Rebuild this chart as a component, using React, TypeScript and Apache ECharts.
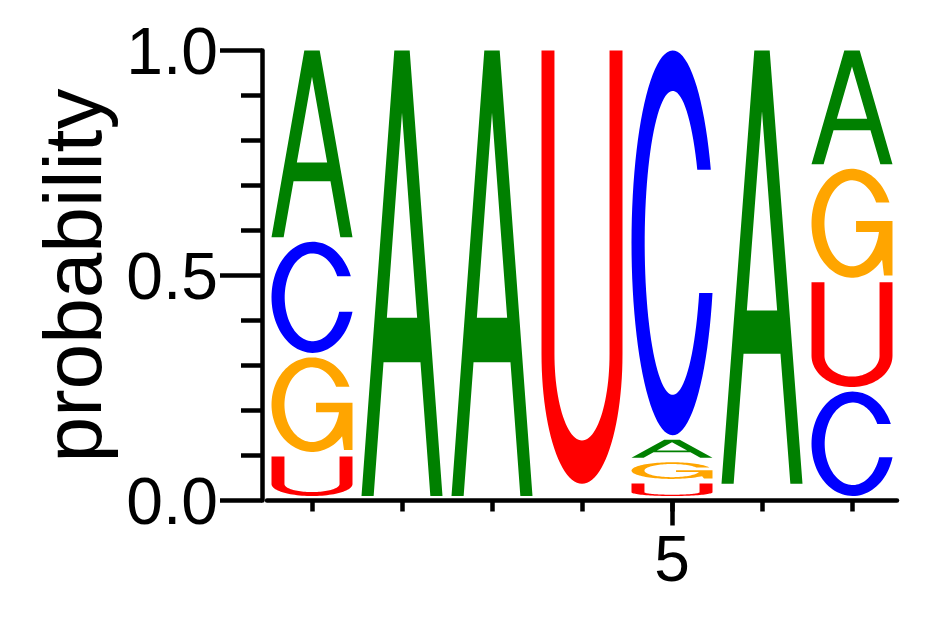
import React, { useEffect, useRef } from "react";
import * as echarts from "echarts";

// sequence positions and the four bases
const positions = ["1", "2", "3", "4", "5", "6", "7"];
const letters = ["A", "C", "G", "U"];
const letterColors = ["#008000", "#0000FF", "#FFA500", "#FF0000"];

// probability of each base at each position
const probA = [0.425, 1.0, 1.0, 0.009, 0.05, 0.973, 0.263];
const probC = [0.257, 0, 0, 0.009, 0.865, 0.009, 0.242];
const probG = [0.22, 0, 0, 0.009, 0.047, 0.009, 0.252];
const probU = [0.098, 0, 0, 0.973, 0.038, 0.009, 0.243];

const yTicks = [0, 0.5, 1.0];

// ---- glyph outlines in a 100x100 box (y down) ----
const deg = (r: number) => (r * 180) / Math.PI;
const ellipsePts = (cx: number, cy: number, rx: number, ry: number, a0: number, a1: number, n: number) => {
  const pts: number[][] = [];
  for (let k = 0; k <= n; k++) {
    const a = ((a0 + ((a1 - a0) * k) / n) * Math.PI) / 180;
    pts.push([cx + rx * Math.cos(a), cy - ry * Math.sin(a)]);
  }
  return pts;
};
const toPath = (pts: number[][]) =>
  "M" + pts.map((p) => p[0].toFixed(2) + "," + p[1].toFixed(2)).join("L") + "Z";

const glyphA =
  "M0,100L40.5,0L59.5,0L100,100L85,100L72.8,70L27.2,70L15,100Z" +
  "M31.3,60L68.7,60L50,14Z";

const yT = 31;
const yB = 63;
const oT = deg(Math.asin((50 - yT) / 50));
const oB = 360 + deg(Math.asin((50 - yB) / 50));
const iT = deg(Math.asin((50 - yT) / 39.5));
const iB = 360 + deg(Math.asin((50 - yB) / 39.5));

const glyphC = toPath([
  ...ellipsePts(50, 50, 50, 50, oT, oB, 90),
  ...ellipsePts(50, 50, 34, 39.5, iB, iT, 90),
]);

const gBar = deg(Math.asin((50 - 58) / 39.5));
const glyphG = toPath([
  ...ellipsePts(50, 50, 50, 50, oT, 318, 90),
  [89.5, 98],
  [100, 98],
  [100, 48],
  [55, 48],
  [55, 58],
  [50 + 34 * Math.cos((gBar * Math.PI) / 180), 58],
  ...ellipsePts(50, 50, 34, 39.5, gBar, iT - 360, 90),
]);

const glyphU = toPath([
  [0, 0],
  [16, 0],
  ...ellipsePts(50, 70, 34, 20, 180, 360, 50),
  [84, 0],
  [100, 0],
  ...ellipsePts(50, 70, 50, 30, 360, 180, 50),
]);

const glyphs = [glyphA, glyphC, glyphG, glyphU];

const App: React.FC = () => {
  const chartRef = useRef<HTMLDivElement | null>(null);

  useEffect(() => {
    if (!chartRef.current) return;
    const chart = echarts.init(chartRef.current, null, { renderer: "svg" });

    const probs = [probA, probC, probG, probU];
    // stacked [pos, bottom, top, letter], smallest at the bottom
    const stackData: number[][] = [];
    positions.forEach((_, i) => {
      const col = letters.map((_, l) => ({ l, p: probs[l][i] }));
      col.sort((a, b) => a.p - b.p);
      let base = 0;
      col.forEach((c) => {
        stackData.push([i, base, base + c.p, c.l]);
        base += c.p;
      });
    });

    const font = "'Liberation Sans', Arial, sans-serif";

    const option = {
      animation: false,
      backgroundColor: "#ffffff",
      grid: { left: 267, right: 45, top: 50.5, bottom: 116.5 },
      xAxis: [
        {
          type: "category",
          position: "bottom",
          data: positions,
          axisLine: { show: true, lineStyle: { color: "#000", width: 4.5 } },
          axisTick: { show: true, alignWithLabel: true, interval: 0, length: 11, lineStyle: { color: "#000", width: 4.5 } },
          axisLabel: { show: false },
          splitLine: { show: false },
        },
        {
          type: "category",
          position: "bottom",
          data: positions,
          axisLine: { show: false },
          axisTick: {
            show: true,
            alignWithLabel: true,
            interval: (idx: number) => idx === 4,
            length: 25,
            lineStyle: { color: "#000", width: 4.5 },
          },
          axisLabel: {
            show: true,
            interval: (idx: number) => idx === 4,
            fontSize: 64,
            fontFamily: font,
            color: "#000",
            margin: 26,
          },
          splitLine: { show: false },
        },
      ],
      yAxis: {
        type: "value",
        min: yTicks[0],
        max: yTicks[yTicks.length - 1],
        interval: yTicks[1] - yTicks[0],
        offset: 5,
        name: "probability",
        nameLocation: "middle",
        nameRotate: 90,
        nameGap: 149,
        nameTextStyle: { fontSize: 82, fontFamily: font, color: "#000" },
        axisLine: { show: true, lineStyle: { color: "#000", width: 4.5 } },
        axisTick: { show: true, length: 42, lineStyle: { color: "#000", width: 4.5 } },
        minorTick: { show: true, splitNumber: 5, length: 21, lineStyle: { color: "#000", width: 4.5 } },
        axisLabel: {
          fontSize: 66,
          fontFamily: font,
          color: "#000",
          margin: 44,
          formatter: (v: number) => v.toFixed(1),
        },
        splitLine: { show: false },
      },
      series: [
        {
          type: "custom",
          xAxisIndex: 0,
          yAxisIndex: 0,
          encode: { x: 0, y: [1, 2] },
          data: stackData,
          renderItem: (params: any, api: any) => {
            const x = api.value(0);
            const bottom = api.coord([x, api.value(1)]);
            const top = api.coord([x, api.value(2)]);
            const band = api.size([1, 0])[0];
            const w = band * 0.9;
            const h = bottom[1] - top[1] - 4.5;
            if (h < 1.5) return null;
            const l = api.value(3);
            return {
              type: "path",
              shape: {
                pathData: glyphs[l],
                x: bottom[0] - w / 2,
                y: top[1],
                width: w,
                height: h,
                layout: "cover",
              },
              style: { fill: letterColors[l] },
            };
          },
        },
      ],
    };

    chart.setOption(option);

    const handleResize = () => chart.resize();
    window.addEventListener("resize", handleResize);
    return () => {
      window.removeEventListener("resize", handleResize);
      chart.dispose();
    };
  }, []);

  return (
    <div
      ref={chartRef}
      style={{ position: "fixed", left: 0, top: 0, width: 942, height: 617, background: "#fff" }}
    />
  );
};

export default App;
